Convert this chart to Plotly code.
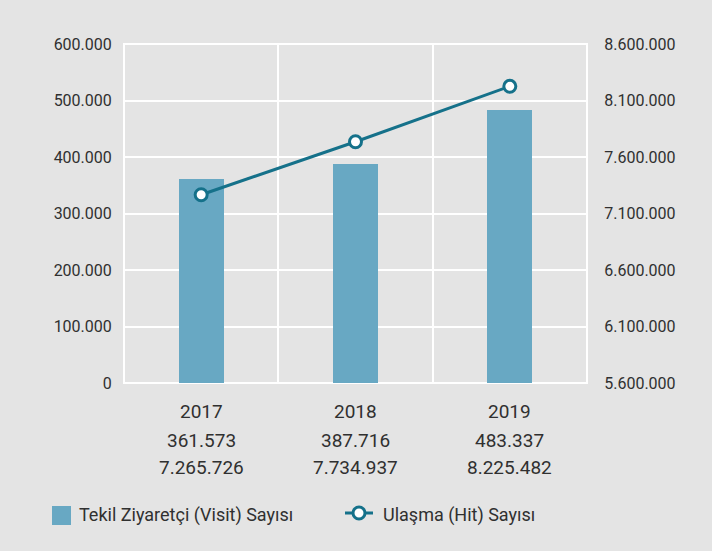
import plotly.graph_objects as go

years = ["2017", "2018", "2019"]
visits = [361573, 387716, 483337]
hits = [7265726, 7734937, 8225482]
series_names = ["Tekil Ziyaretçi (Visit) Sayısı", "Ulaşma (Hit) Sayısı"]

def fmt(v):
    return f"{v:,}".replace(",", ".")

x_pos = list(range(len(years)))

BAR = "#68a8c3"
LINE = "#15718a"
BG = "#e4e4e4"
TXT = "#303030"
FONT = "Roboto, sans-serif"

# plot area in pixels (for converting layout positions to paper coords)
L, R, T, B = 124, 587, 44, 383
W, H = R - L, B - T
def px(x):
    return (x - L) / W
def py(y):
    return (B - y) / H

fig = go.Figure()
fig.add_trace(go.Bar(x=x_pos, y=visits, name=series_names[0],
                     marker=dict(color=BAR, line=dict(width=0)), width=0.29,
                     yaxis="y", showlegend=False))
fig.add_trace(go.Scatter(x=x_pos, y=hits, name=series_names[1], mode="lines+markers",
                         line=dict(color=LINE, width=3),
                         marker=dict(size=12, color="white", line=dict(color=LINE, width=3)),
                         yaxis="y2", showlegend=False))

annotations = []
line_ys = [411, 440, 468]
for xi, y, v, h in zip(x_pos, years, visits, hits):
    for txt, ly in zip([y, fmt(v), fmt(h)], line_ys):
        annotations.append(dict(x=xi, y=py(ly), xref="x", yref="paper", text=txt,
                                showarrow=False, xanchor="center", yanchor="middle",
                                font=dict(size=19, color=TXT, family=FONT)))
# legend texts
annotations.append(dict(x=px(77), y=py(515), xref="paper", yref="paper", text=series_names[0],
                        showarrow=False, xanchor="left", yanchor="middle",
                        font=dict(size=18, color=TXT, family=FONT)))
annotations.append(dict(x=px(381), y=py(515), xref="paper", yref="paper", text=series_names[1],
                        showarrow=False, xanchor="left", yanchor="middle",
                        font=dict(size=18, color=TXT, family=FONT)))

shapes = [
    # plot border (white grid frame)
    dict(type="rect", xref="paper", yref="paper", x0=0, x1=1, y0=0, y1=1,
         line=dict(color="white", width=2), fillcolor="rgba(0,0,0,0)", layer="below"),
    # legend symbols
    dict(type="rect", xref="paper", yref="paper", x0=px(52), x1=px(71), y0=py(525), y1=py(506),
         line=dict(width=0), fillcolor=BAR),
    dict(type="line", xref="paper", yref="paper", x0=px(345), x1=px(373), y0=py(513), y1=py(513),
         line=dict(color=LINE, width=3)),
    dict(type="circle", xref="paper", yref="paper", x0=px(353), x1=px(365), y0=py(519), y1=py(507),
         line=dict(color=LINE, width=3), fillcolor="white"),
]

fig.update_layout(
    width=712, height=551,
    paper_bgcolor=BG, plot_bgcolor=BG,
    margin=dict(l=L, r=712 - R, t=T, b=551 - B, autoexpand=False),
    separators=",.",
    font=dict(family=FONT, color=TXT, size=16),
    showlegend=False,
    xaxis=dict(range=[-0.5, 2.5], tickvals=[-0.5, 0.5, 1.5, 2.5], showticklabels=False,
               showgrid=True, gridcolor="white", gridwidth=2, zeroline=False,
               showline=False, ticks="", automargin=False),
    yaxis=dict(range=[0, 600000], dtick=100000, tickformat=",d", showgrid=True,
               gridcolor="white", gridwidth=2, zeroline=False, ticks="outside",
               ticklen=8, tickcolor=BG, tickfont=dict(size=16, color=TXT), automargin=False),
    yaxis2=dict(range=[5600000, 8600000], tick0=5600000, dtick=500000, tickformat=",d",
                overlaying="y", side="right", showgrid=False, zeroline=False, ticks="outside",
                ticklen=13, tickcolor=BG, tickfont=dict(size=16, color=TXT), automargin=False),
    annotations=annotations,
    shapes=shapes,
    bargap=0,
)

fig.write_html("out.html", config={"displayModeBar": False},
               post_script="document.body.style.margin='0';document.body.style.background='%s';" % BG)
